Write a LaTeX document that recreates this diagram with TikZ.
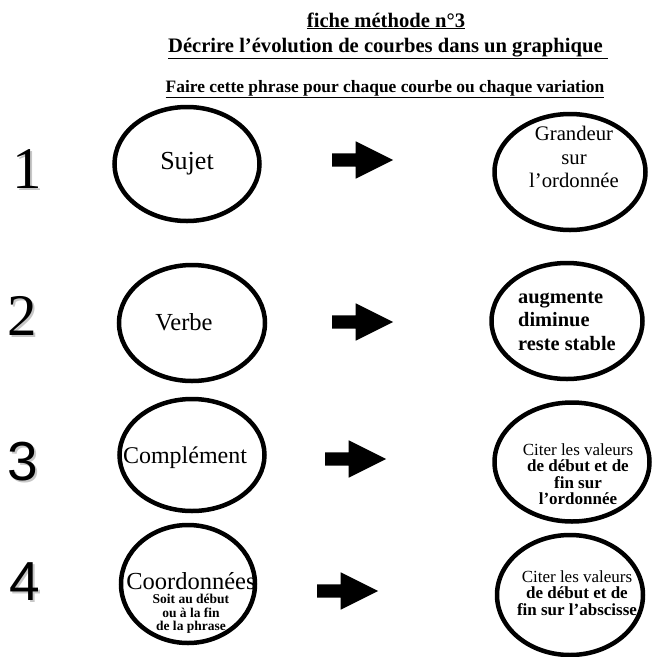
\documentclass[tikz,border=0pt]{standalone}
\usepackage{fontspec}
\setmainfont{Liberation Serif}
\newfontfamily\numsans{Liberation Sans}
\usetikzlibrary{shapes.geometric, shapes.arrows}

\tikzstyle{oval} = [ellipse, draw=black, line width=4.5pt, inner sep=0pt]
\tikzstyle{inside} = [inner sep=0pt, align=center]
\tikzstyle{bigarrow} = [single arrow, fill=black, draw=none, inner sep=0pt, text width=0pt, text height=6.5pt, text depth=6.5pt, minimum height=61pt, single arrow head extend=12pt, single arrow tip angle=53, anchor=tail]
\tikzstyle{num} = [inner sep=0pt, anchor=base, font=\fontsize{59}{59}\selectfont]
\tikzstyle{numshadow} = [num, text=black!22]
\tikzstyle{titre} = [inner sep=0pt, anchor=base, font=\bfseries\fontsize{20.6}{24}\selectfont]

\begin{document}
\begin{tikzpicture}[x=1pt, y=-1pt]
    \useasboundingbox (0,0) rectangle (652,657);

    % titles
    \node (fiche) [titre] at (386,27) {\underline{fiche méthode n°3}};
    \node (decrire) [titre] at (388,52) {\underline{Décrire l’évolution de courbes dans un graphique\ }};
    \node (faire) [titre, font=\bfseries\fontsize{17.4}{20}\selectfont] at (385,92) {\underline{Faire cette phrase pour chaque courbe ou chaque variation}};

    % numbers
    \node (n1s) [numshadow] at (29,190) {1};
    \node (n1) [num] at (27,188) {1};
    \node (n2s) [numshadow] at (24,337) {2};
    \node (n2) [num] at (22,335) {2};
    \node (n3s) [numshadow, font=\numsans\fontsize{55}{55}\selectfont] at (25,482) {3};
    \node (n3) [num, font=\numsans\fontsize{55}{55}\selectfont] at (23,480) {3};
    \node (n4s) [numshadow, font=\numsans\fontsize{55}{55}\selectfont] at (27,602) {4};
    \node (n4) [num, font=\numsans\fontsize{55}{55}\selectfont] at (25,600) {4};

    % left column
    \node (sujet) [oval, minimum width=145pt, minimum height=114pt, font=\fontsize{26}{28}\selectfont] at (187,164) {Sujet};
    \node (verbe) [oval, minimum width=146pt, minimum height=116pt] at (192,323) {};
    \node (verbetxt) [inside, font=\fontsize{24.5}{26}\selectfont] at (184,322) {Verbe};
    \node (complement) [oval, minimum width=145pt, minimum height=112pt] at (192,455) {};
    \node (complementtxt) [inside, font=\fontsize{24}{26}\selectfont] at (185,458) {Complément};
    \node (coord) [oval, minimum width=134pt, minimum height=118pt] at (188,584) {};
    \node (coordtxt) [inside, font=\fontsize{13.5}{13.5}\selectfont\bfseries] at (191,603)
        {{\mdseries\fontsize{24.5}{25}\selectfont Coordonnées}\\[1pt]Soit au début\\ou à la fin\\de la phrase};

    % arrows
    \node (a1) [bigarrow] at (332,160) {};
    \node (a2) [bigarrow] at (332,322) {};
    \node (a3) [bigarrow] at (325,459) {};
    \node (a4) [bigarrow] at (317,591) {};

    % right column
    \node (grandeur) [oval, minimum width=151pt, minimum height=116pt] at (570,172) {};
    \node (grandeurtxt) [inside, font=\fontsize{20.7}{23.5}\selectfont] at (574,157) {Grandeur\\sur\\l’ordonnée};
    \node (variation) [oval, minimum width=151pt, minimum height=116pt] at (567,321) {};
    \node (variationtxt) [inside, align=left, font=\bfseries\fontsize{20.4}{23.5}\selectfont] at (567,321) {augmente\\diminue\\reste stable};
    \node (ordonnee) [oval, minimum width=155pt, minimum height=119pt] at (572,462) {};
    \node (ordonneetxt) [inside, font=\fontsize{17}{16.5}\selectfont] at (578,474)
        {Citer les valeurs\\\textbf{de début et de}\\\textbf{fin sur}\\\textbf{l’ordonnée}};
    \node (abscisse) [oval, minimum width=146pt, minimum height=120pt] at (570,595) {};
    \node (abscissetxt) [inside, font=\fontsize{17}{16.5}\selectfont] at (577,593)
        {Citer les valeurs\\\textbf{de début et de}\\\textbf{fin sur l’abscisse}};

\end{tikzpicture}
\end{document}
